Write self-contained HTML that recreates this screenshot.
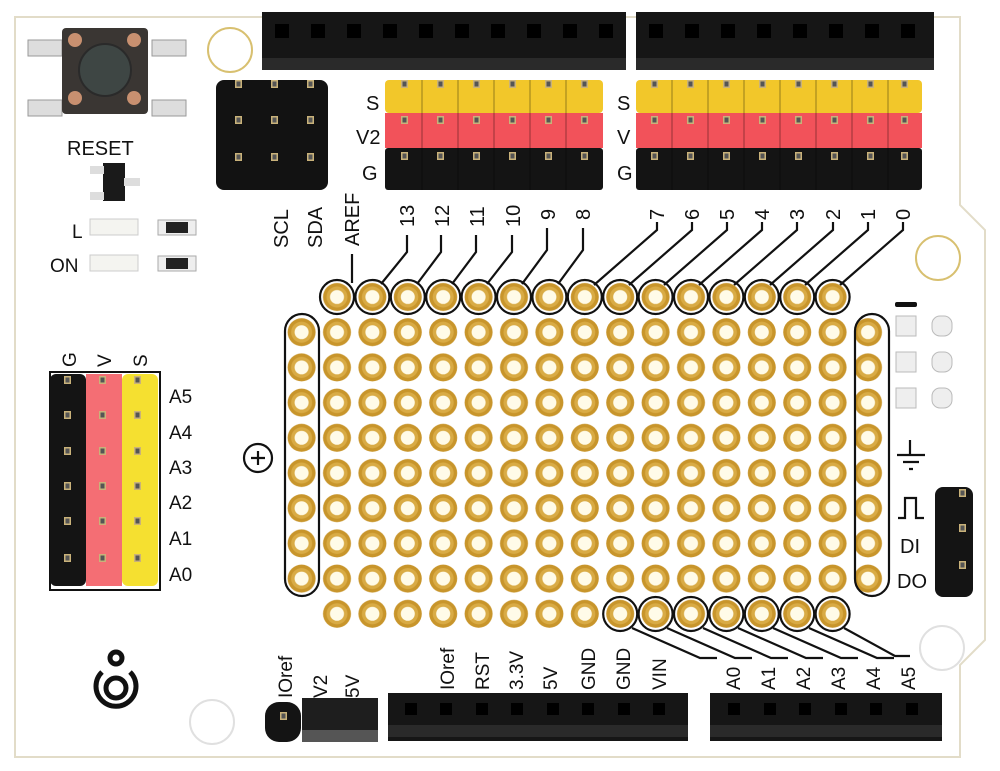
<!DOCTYPE html>
<html><head><meta charset="utf-8"><style>
html,body{margin:0;padding:0;background:#fff;}
svg{display:block;}
text{font-family:"Liberation Sans",sans-serif;fill:#111;}
</style></head><body>
<svg width="1000" height="771" viewBox="0 0 1000 771" xmlns="http://www.w3.org/2000/svg">
<defs>
<pattern id="pad" x="319.3" y="279.4" width="35.4" height="35.2" patternUnits="userSpaceOnUse">
<circle cx="17.7" cy="17.6" r="14" fill="#c8952b"/>
<circle cx="17.7" cy="17.6" r="10.5" fill="#d9ab45"/>
<circle cx="17.7" cy="17.6" r="7" fill="#fffbe8"/>
</pattern>
<g id="pin"><rect x="-3" y="-4" width="7" height="8" fill="#c9b27a"/><rect x="-1.5" y="-2.5" width="4" height="5" fill="#555"/></g>
</defs>
<!-- board -->
<path d="M15 17 L960 17 L960 205 L985 230 L985 640 L960 665 L960 757 L15 757 Z" fill="#fff" stroke="#e2dcc8" stroke-width="2"/>
<!-- holes -->
<circle cx="230" cy="50" r="22" fill="#fff" stroke="#d8c070" stroke-width="2"/>
<circle cx="938" cy="258" r="22" fill="#fff" stroke="#d8c070" stroke-width="2"/>
<circle cx="942" cy="648" r="22" fill="#fff" stroke="#e0e0e0" stroke-width="2"/>
<circle cx="212" cy="722" r="22" fill="#fff" stroke="#e0e0e0" stroke-width="2"/>

<!-- top female headers -->
<rect x="262" y="12" width="364" height="58" fill="#161616"/>
<rect x="262" y="58" width="364" height="12" fill="#2a2a2a"/>
<rect x="636" y="12" width="298" height="58" fill="#161616"/>
<rect x="636" y="58" width="298" height="12" fill="#2a2a2a"/>
<g fill="#000">
<rect x="275" y="24" width="14" height="14"/><rect x="311" y="24" width="14" height="14"/><rect x="347" y="24" width="14" height="14"/><rect x="383" y="24" width="14" height="14"/><rect x="419" y="24" width="14" height="14"/><rect x="455" y="24" width="14" height="14"/><rect x="491" y="24" width="14" height="14"/><rect x="527" y="24" width="14" height="14"/><rect x="563" y="24" width="14" height="14"/><rect x="599" y="24" width="14" height="14"/>
<rect x="649" y="24" width="14" height="14"/><rect x="685" y="24" width="14" height="14"/><rect x="721" y="24" width="14" height="14"/><rect x="757" y="24" width="14" height="14"/><rect x="793" y="24" width="14" height="14"/><rect x="829" y="24" width="14" height="14"/><rect x="865" y="24" width="14" height="14"/><rect x="901" y="24" width="14" height="14"/>
</g>

<!-- colored male headers -->
<rect x="385" y="80" width="218" height="33" rx="4" fill="#f2c72a"/>
<rect x="385" y="113" width="218" height="35" fill="#f2525a"/>
<rect x="385" y="148" width="218" height="42" rx="3" fill="#141414"/>
<rect x="636" y="80" width="286" height="33" rx="4" fill="#f2c72a"/>
<rect x="636" y="113" width="286" height="35" fill="#f2525a"/>
<rect x="636" y="148" width="286" height="42" rx="3" fill="#141414"/>
<g stroke="#000" stroke-opacity="0.25" stroke-width="1.5">
<path d="M422 80 V190 M458 80 V190 M494 80 V190 M530 80 V190 M566 80 V190"/>
<path d="M672 80 V190 M708 80 V190 M744 80 V190 M780 80 V190 M816 80 V190 M852 80 V190 M888 80 V190"/>
</g>
<g>
<use href="#pin" x="404" y="84"/><use href="#pin" x="440" y="84"/><use href="#pin" x="476" y="84"/><use href="#pin" x="512" y="84"/><use href="#pin" x="548" y="84"/><use href="#pin" x="584" y="84"/>
<use href="#pin" x="404" y="120"/><use href="#pin" x="440" y="120"/><use href="#pin" x="476" y="120"/><use href="#pin" x="512" y="120"/><use href="#pin" x="548" y="120"/><use href="#pin" x="584" y="120"/>
<use href="#pin" x="404" y="156"/><use href="#pin" x="440" y="156"/><use href="#pin" x="476" y="156"/><use href="#pin" x="512" y="156"/><use href="#pin" x="548" y="156"/><use href="#pin" x="584" y="156"/>
<use href="#pin" x="654" y="84"/><use href="#pin" x="690" y="84"/><use href="#pin" x="726" y="84"/><use href="#pin" x="762" y="84"/><use href="#pin" x="798" y="84"/><use href="#pin" x="834" y="84"/><use href="#pin" x="870" y="84"/><use href="#pin" x="904" y="84"/>
<use href="#pin" x="654" y="120"/><use href="#pin" x="690" y="120"/><use href="#pin" x="726" y="120"/><use href="#pin" x="762" y="120"/><use href="#pin" x="798" y="120"/><use href="#pin" x="834" y="120"/><use href="#pin" x="870" y="120"/><use href="#pin" x="904" y="120"/>
<use href="#pin" x="654" y="156"/><use href="#pin" x="690" y="156"/><use href="#pin" x="726" y="156"/><use href="#pin" x="762" y="156"/><use href="#pin" x="798" y="156"/><use href="#pin" x="834" y="156"/><use href="#pin" x="870" y="156"/><use href="#pin" x="904" y="156"/>
</g>
<text x="366" y="110" font-size="20">S</text>
<text x="356" y="144" font-size="20">V2</text>
<text x="362" y="180" font-size="20">G</text>
<text x="617" y="110" font-size="20">S</text>
<text x="617" y="144" font-size="20">V</text>
<text x="617" y="180" font-size="20">G</text>

<!-- ICSP 3x3 -->
<rect x="216" y="80" width="112" height="110" rx="8" fill="#121212"/>
<use href="#pin" x="238" y="84"/><use href="#pin" x="274" y="84"/><use href="#pin" x="310" y="84"/>
<use href="#pin" x="238" y="120"/><use href="#pin" x="274" y="120"/><use href="#pin" x="310" y="120"/>
<use href="#pin" x="238" y="157"/><use href="#pin" x="274" y="157"/><use href="#pin" x="310" y="157"/>

<!-- reset button -->
<rect x="28" y="40" width="34" height="16" fill="#ddd" stroke="#999"/>
<rect x="152" y="40" width="34" height="16" fill="#ddd" stroke="#999"/>
<rect x="28" y="100" width="34" height="16" fill="#ddd" stroke="#999"/>
<rect x="152" y="100" width="34" height="16" fill="#ddd" stroke="#999"/>
<rect x="62" y="28" width="86" height="86" rx="4" fill="#3a3633"/>
<circle cx="105" cy="70" r="26" fill="#3e4644" stroke="#2a2a2a" stroke-width="2"/>
<circle cx="75" cy="40" r="7" fill="#c89070"/><circle cx="134" cy="40" r="7" fill="#c89070"/>
<circle cx="75" cy="98" r="7" fill="#c89070"/><circle cx="134" cy="98" r="7" fill="#c89070"/>
<text x="67" y="155" font-size="20">RESET</text>
<rect x="103" y="163" width="22" height="38" fill="#1a1a1a"/>
<rect x="90" y="166" width="14" height="8" fill="#ddd"/><rect x="90" y="192" width="14" height="8" fill="#ddd"/><rect x="124" y="178" width="16" height="8" fill="#ddd"/>
<text x="72" y="238" font-size="19">L</text>
<text x="50" y="272" font-size="19">ON</text>
<rect x="90" y="219" width="48" height="16" fill="#f4f4f0" stroke="#ccc"/>
<rect x="90" y="255" width="48" height="16" fill="#f4f4f0" stroke="#ccc"/>
<rect x="158" y="220" width="38" height="15" fill="#eee" stroke="#aaa"/><rect x="166" y="222" width="22" height="11" fill="#222"/>
<rect x="158" y="256" width="38" height="15" fill="#eee" stroke="#aaa"/><rect x="166" y="258" width="22" height="11" fill="#222"/>

<!-- rotated top labels -->
<g font-size="20">
<text transform="translate(288,248) rotate(-90)">SCL</text>
<text transform="translate(322,248) rotate(-90)">SDA</text>
<text transform="translate(359,246) rotate(-90)">AREF</text>
<text transform="translate(414,227) rotate(-90)">13</text>
<text transform="translate(449,227) rotate(-90)">12</text>
<text transform="translate(484,227) rotate(-90)">11</text>
<text transform="translate(520,227) rotate(-90)">10</text>
<text transform="translate(555,220) rotate(-90)">9</text>
<text transform="translate(590,220) rotate(-90)">8</text>
<text transform="translate(664,220) rotate(-90)">7</text>
<text transform="translate(699,220) rotate(-90)">6</text>
<text transform="translate(734,220) rotate(-90)">5</text>
<text transform="translate(769,220) rotate(-90)">4</text>
<text transform="translate(804,220) rotate(-90)">3</text>
<text transform="translate(840,220) rotate(-90)">2</text>
<text transform="translate(875,220) rotate(-90)">1</text>
<text transform="translate(910,220) rotate(-90)">0</text>
</g>
<g fill="none" stroke="#111" stroke-width="2.2">
<path d="M352 254 V283"/>
<path d="M407 235 V252 L381 284"/>
<path d="M441 235 V252 L417 284"/>
<path d="M476 235 V252 L452 284"/>
<path d="M512 235 V252 L487 284"/>
<path d="M547 228 V250 L522 284"/>
<path d="M583 228 V250 L558 284"/>
<path d="M657 222 V230 L594 285"/>
<path d="M692 222 V230 L629 285"/>
<path d="M727 222 V230 L664 285"/>
<path d="M762 222 V230 L699 285"/>
<path d="M797 222 V230 L734 285"/>
<path d="M833 222 V230 L770 285"/>
<path d="M868 222 V230 L805 285"/>
<path d="M903 222 V230 L840 285"/>
</g>

<!-- pad grid -->
<rect x="319.3" y="279.4" width="531" height="352" fill="url(#pad)"/>
<rect x="284.4" y="314.6" width="35" height="281.6" fill="url(#pad)"/>
<rect x="854.4" y="314.6" width="35" height="281.6" fill="url(#pad)"/>
<rect x="284.6" y="279" width="35" height="35.6" fill="#fff"/>
<g fill="none" stroke="#111" stroke-width="2.2">
<rect x="285" y="314" width="34" height="282" rx="17"/>
<rect x="855" y="314" width="34" height="282" rx="17"/>
<circle cx="337" cy="297" r="17"/><circle cx="372.4" cy="297" r="17"/><circle cx="407.8" cy="297" r="17"/><circle cx="443.2" cy="297" r="17"/><circle cx="478.6" cy="297" r="17"/><circle cx="514" cy="297" r="17"/><circle cx="549.4" cy="297" r="17"/><circle cx="584.8" cy="297" r="17"/><circle cx="620.2" cy="297" r="17"/><circle cx="655.6" cy="297" r="17"/><circle cx="691" cy="297" r="17"/><circle cx="726.4" cy="297" r="17"/><circle cx="761.8" cy="297" r="17"/><circle cx="797.2" cy="297" r="17"/><circle cx="832.6" cy="297" r="17"/>
<circle cx="620.2" cy="614" r="17"/><circle cx="655.6" cy="614" r="17"/><circle cx="691" cy="614" r="17"/><circle cx="726.4" cy="614" r="17"/><circle cx="761.8" cy="614" r="17"/><circle cx="797.2" cy="614" r="17"/><circle cx="832.6" cy="614" r="17"/>
<path d="M632 628 L700 658 H717"/>
<path d="M667 628 L735 658 H752"/>
<path d="M703 628 L771 658 H788"/>
<path d="M738 628 L806 658 H823"/>
<path d="M773 628 L841 658 H858"/>
<path d="M809 628 L877 658 H894"/>
<path d="M844 628 L895 656 H910"/>
<circle cx="258" cy="458" r="14"/><path d="M251 458 H265 M258 451 V465"/>
</g>
<!-- right side marks -->
<rect x="895" y="302" width="22" height="5" rx="2" fill="#111"/>
<g fill="#eee" stroke="#bbb"><rect x="896" y="316" width="20" height="20"/><rect x="896" y="352" width="20" height="20"/><rect x="896" y="388" width="20" height="20"/><rect x="932" y="316" width="20" height="20" rx="8"/><rect x="932" y="352" width="20" height="20" rx="8"/><rect x="932" y="388" width="20" height="20" rx="8"/></g>
<g fill="none" stroke="#111" stroke-width="2.2">
<path d="M910 440 V455 M897 455 H925 M903 462 H919 M909 469 H913"/>
<path d="M898 518 H905 V498 H916 V518 H924"/>
</g>
<text x="900" y="553" font-size="20">DI</text>
<text x="897" y="588" font-size="20">DO</text>
<rect x="935" y="487" width="38" height="110" rx="8" fill="#141414"/>
<use href="#pin" x="962" y="493"/><use href="#pin" x="962" y="528"/><use href="#pin" x="962" y="565"/>

<!-- left analog headers -->
<rect x="50" y="372" width="110" height="218" fill="#fff" stroke="#111" stroke-width="2"/>
<rect x="50" y="374" width="36" height="212" rx="6" fill="#141414"/>
<rect x="86" y="374" width="36" height="212" fill="#f46e74"/>
<rect x="122" y="374" width="36" height="212" rx="6" fill="#f5e030"/>
<g>
<use href="#pin" x="67" y="380"/><use href="#pin" x="67" y="415"/><use href="#pin" x="67" y="451"/><use href="#pin" x="67" y="486"/><use href="#pin" x="67" y="521"/><use href="#pin" x="67" y="558"/>
<use href="#pin" x="102" y="380"/><use href="#pin" x="102" y="415"/><use href="#pin" x="102" y="451"/><use href="#pin" x="102" y="486"/><use href="#pin" x="102" y="521"/><use href="#pin" x="102" y="558"/>
<use href="#pin" x="137" y="380"/><use href="#pin" x="137" y="415"/><use href="#pin" x="137" y="451"/><use href="#pin" x="137" y="486"/><use href="#pin" x="137" y="521"/><use href="#pin" x="137" y="558"/>
</g>
<g font-size="19">
<text transform="translate(76,367) rotate(-90)">G</text>
<text transform="translate(111,367) rotate(-90)">V</text>
<text transform="translate(147,367) rotate(-90)">S</text>
<text x="169" y="403">A5</text><text x="169" y="439">A4</text><text x="169" y="474">A3</text><text x="169" y="509">A2</text><text x="169" y="545">A1</text><text x="169" y="581">A0</text>
</g>
<!-- logo -->
<g fill="none" stroke="#111" stroke-width="5">
<circle cx="116" cy="658" r="6"/>
<circle cx="116" cy="688" r="10"/>
<path d="M102 672 A20 20 0 1 0 130 672"/>
</g>

<!-- bottom -->
<g font-size="19">
<text transform="translate(292,698) rotate(-90)">IOref</text>
<text transform="translate(327,698) rotate(-90)">V2</text>
<text transform="translate(359,698) rotate(-90)">5V</text>
<text transform="translate(454,690) rotate(-90)">IOref</text>
<text transform="translate(489,690) rotate(-90)">RST</text>
<text transform="translate(523,690) rotate(-90)">3.3V</text>
<text transform="translate(557,690) rotate(-90)">5V</text>
<text transform="translate(595,690) rotate(-90)">GND</text>
<text transform="translate(630,690) rotate(-90)">GND</text>
<text transform="translate(666,690) rotate(-90)">VIN</text>
<text transform="translate(740,690) rotate(-90)">A0</text>
<text transform="translate(775,690) rotate(-90)">A1</text>
<text transform="translate(810,690) rotate(-90)">A2</text>
<text transform="translate(845,690) rotate(-90)">A3</text>
<text transform="translate(880,690) rotate(-90)">A4</text>
<text transform="translate(915,690) rotate(-90)">A5</text>
</g>
<rect x="265" y="702" width="36" height="40" rx="14" fill="#141414"/>
<use href="#pin" x="283" y="716"/>
<rect x="302" y="698" width="76" height="44" fill="#1e1e1e"/>
<rect x="302" y="730" width="76" height="12" fill="#555"/>
<rect x="388" y="693" width="300" height="48" fill="#161616"/>
<rect x="388" y="725" width="300" height="12" fill="#2a2a2a"/>
<rect x="710" y="693" width="232" height="48" fill="#161616"/>
<rect x="710" y="725" width="232" height="12" fill="#2a2a2a"/>
<g fill="#000">
<rect x="405" y="703" width="12" height="12"/><rect x="440" y="703" width="12" height="12"/><rect x="476" y="703" width="12" height="12"/><rect x="511" y="703" width="12" height="12"/><rect x="547" y="703" width="12" height="12"/><rect x="582" y="703" width="12" height="12"/><rect x="618" y="703" width="12" height="12"/><rect x="653" y="703" width="12" height="12"/>
<rect x="728" y="703" width="12" height="12"/><rect x="764" y="703" width="12" height="12"/><rect x="799" y="703" width="12" height="12"/><rect x="835" y="703" width="12" height="12"/><rect x="870" y="703" width="12" height="12"/><rect x="906" y="703" width="12" height="12"/>
</g>
</svg>
</body></html>
